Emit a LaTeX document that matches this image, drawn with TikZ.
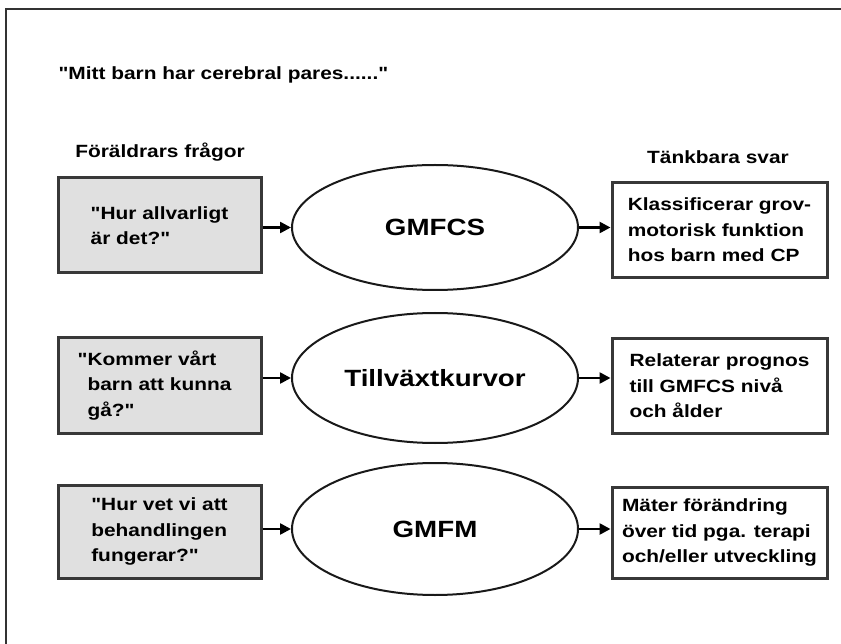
\documentclass[tikz,border=0pt]{standalone}
\usepackage{fontspec}
\setmainfont{Liberation Sans}[FakeStretch=1.18, Ligatures=TeXOff]
\usetikzlibrary{arrows.meta, shapes.geometric}
\usetikzlibrary{positioning}

\begin{document}
\begin{tikzpicture}[x=1pt, y=-1pt,
    txt/.style={font=\bfseries\fontsize{17.7}{25.5}\selectfont, align=left},
    qbox/.style={txt, draw=black!78, line width=3pt, fill=black!12, minimum width=203pt, minimum height=95pt, inner sep=0pt},
    abox/.style={qbox, fill=white, minimum width=215pt},
    tool/.style={ellipse, draw=black!90, line width=2pt, minimum width=286pt, inner sep=0pt, font=\bfseries\fontsize{23.5}{28}\selectfont},
    arr/.style={line width=2.5pt, -{Triangle[length=11pt,width=11pt]}}]

	\useasboundingbox (0,0) rectangle (841,644);
	\draw[black!80, line width=1.5pt] (6,644) -- (6,9) -- (841,9);

	\node[txt, anchor=west] (title) at (55,75) {"Mitt barn har cerebral pares......"};
	\node[txt] (hq) at (160,152) {Föräldrars frågor};
	\node[txt] (ha) at (718,157) {Tänkbara svar};

	\node[qbox] (q1) at (159.5,225.5) {"Hur allvarligt\\är det?"};
	\node[tool, minimum height=125pt] (t1) at (435,227.5) {GMFCS};
	\node[abox] (a1) at (719.5,230) {Klassificerar grov-\\motorisk funktion\\hos barn med CP};

	\node[qbox] (q2) at (159.5,385.5) {\llap{"}Kommer vårt\\barn att kunna\\gå?"};
	\node[tool, minimum height=130pt] (t2) at (435,378) {Tillväxtkurvor};
	\node[abox] (a2) at (719.5,386) {Relaterar prognos\\till GMFCS nivå\\och ålder};

	\node[qbox, minimum height=93pt] (q3) at (159.5,531.5) {"Hur vet vi att\\behandlingen\\fungerar?"};
	\node[tool, minimum height=132pt] (t3) at (435,529) {GMFM};
	\node[abox, minimum height=91pt] (a3) at (719.5,532.5) {Mäter förändring\\över tid pga. terapi\\och/eller utveckling};

	\foreach \i in {1,2,3} {
		\draw[arr] (q\i.east |- t\i.west) -- (t\i.west);
		\draw[arr] (t\i.east) -- (t\i.east -| a\i.west);
	}
\end{tikzpicture}
\end{document}
